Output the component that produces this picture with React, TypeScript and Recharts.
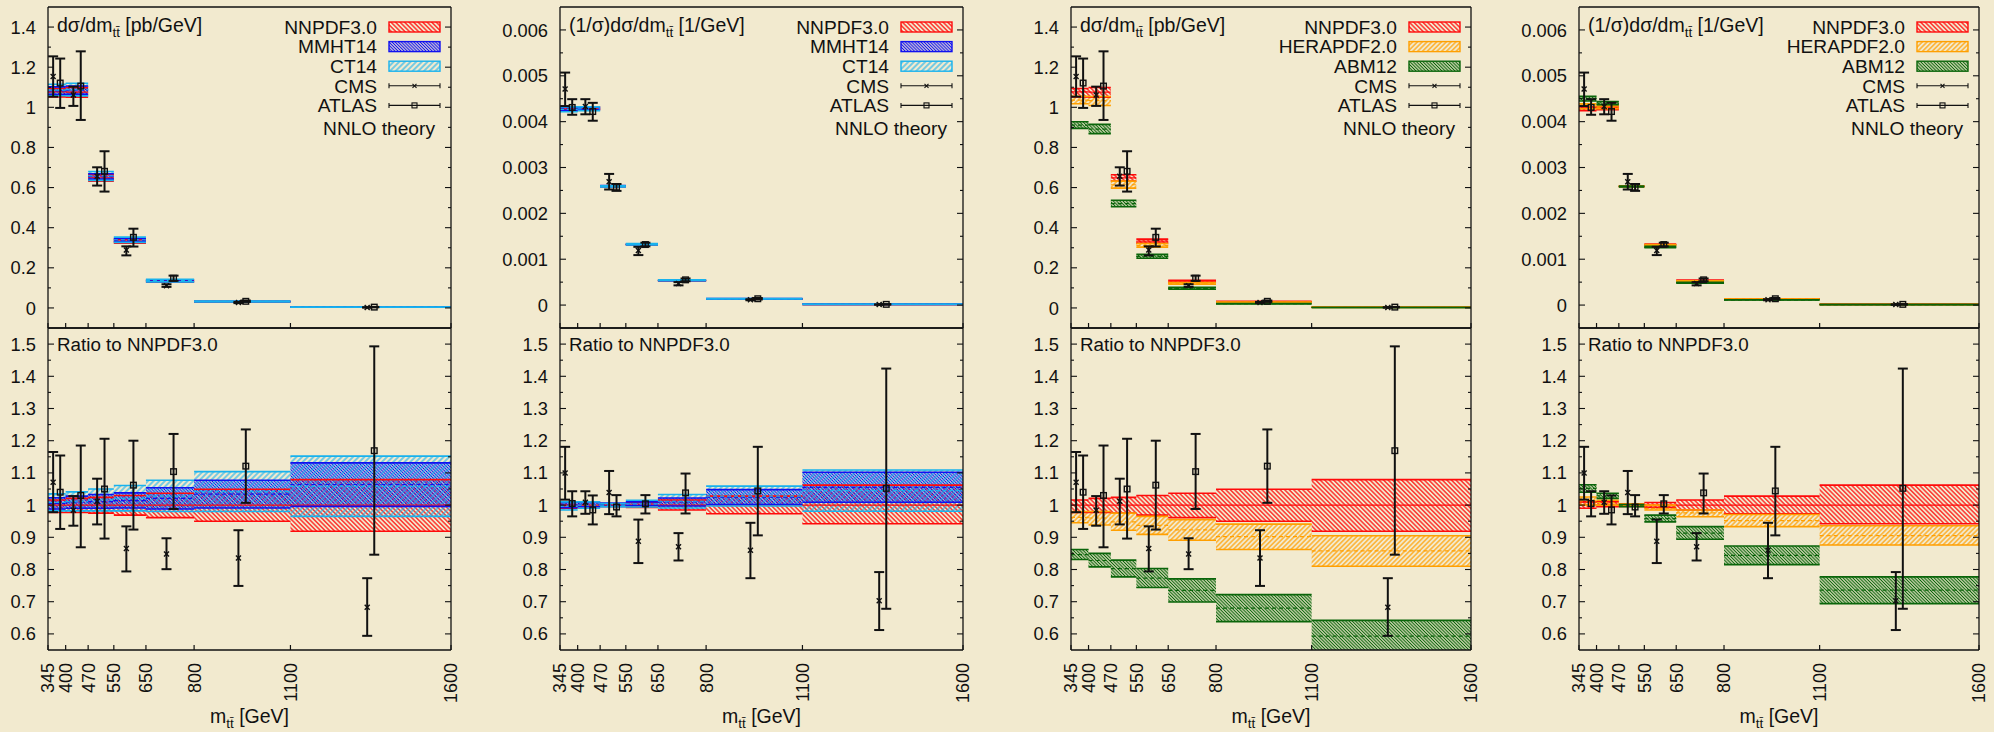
import React from "react";
import { ComposedChart, Area, Line, Scatter, ErrorBar, XAxis, YAxis } from "recharts";

const FONT = '"Liberation Sans", Arial, Helvetica, sans-serif';
const INK = "#111";
const BG = "#f2eacf";

// bins in m_tt [GeV]
const EDGES = [345, 400, 470, 550, 650, 800, 1100, 1600];
const X_CMS = [361, 424, 498, 589, 714, 938, 1339];
const X_ATLAS = [383, 447, 521, 611, 736, 961, 1361];

// y ticks
const ABS_MAJOR = [0, 0.2, 0.4, 0.6, 0.8, 1, 1.2, 1.4];
const ABS_MINOR = [0.1, 0.3, 0.5, 0.7, 0.9, 1.1, 1.3];
const NORM_MAJOR = [0, 0.001, 0.002, 0.003, 0.004, 0.005, 0.006];
const NORM_MINOR = [0.0005, 0.0015, 0.0025, 0.0035, 0.0045, 0.0055];
const RATIO_MAJOR = [0.6, 0.7, 0.8, 0.9, 1, 1.1, 1.2, 1.3, 1.4, 1.5];
const RATIO_MINOR = [0.65, 0.75, 0.85, 0.95, 1.05, 1.15, 1.25, 1.35, 1.45];

// data: dsigma/dm [pb/GeV]
const CMS_A = [1.153, 1.061, 0.656, 0.289, 0.111, 0.027, 0.0025];
const CMS_A_LO = [1.053, 1.007, 0.61, 0.262, 0.105, 0.024, 0.0022];
const CMS_A_HI = [1.254, 1.103, 0.701, 0.307, 0.118, 0.03, 0.0028];
const ATLAS_A = [1.121, 1.106, 0.681, 0.352, 0.148, 0.033, 0.0041];
const ATLAS_A_LO = [0.997, 0.937, 0.58, 0.306, 0.135, 0.03, 0.003];
const ATLAS_A_HI = [1.243, 1.279, 0.781, 0.395, 0.161, 0.037, 0.0052];

// data: (1/sigma) dsigma/dm [1/GeV]
const CMS_N = [0.00471, 0.00433, 0.00269, 0.00119, 0.00047, 0.000116, 0.0000105];
const CMS_N_LO = [0.00434, 0.00416, 0.00252, 0.00109, 0.00043, 0.000105, 0.000009];
const CMS_N_HI = [0.00507, 0.00449, 0.00286, 0.00127, 0.0005, 0.000127, 0.000012];
const ATLAS_N = [0.00431, 0.00422, 0.00257, 0.00132, 0.00055, 0.000138, 0.0000155];
const ATLAS_N_LO = [0.00415, 0.00402, 0.00249, 0.00128, 0.00052, 0.000122, 0.00001];
const ATLAS_N_HI = [0.00449, 0.00441, 0.00264, 0.00136, 0.00058, 0.000154, 0.000021];

// data: ratio to NNPDF3.0 (absolute)
const CMS_R = [1.071, 0.984, 1.012, 0.865, 0.848, 0.836, 0.683];
const CMS_R_LO = [0.978, 0.936, 0.94, 0.794, 0.801, 0.749, 0.594];
const CMS_R_HI = [1.165, 1.028, 1.082, 0.934, 0.897, 0.922, 0.773];
const ATLAS_R = [1.04, 1.03, 1.05, 1.062, 1.104, 1.121, 1.169];
const ATLAS_R_LO = [0.926, 0.869, 0.896, 0.924, 0.988, 1.007, 0.846];
const ATLAS_R_HI = [1.154, 1.185, 1.206, 1.2, 1.221, 1.235, 1.493];

// data: ratio to NNPDF3.0 (normalised)
const CMS_NR = [1.1, 1.009, 1.039, 0.888, 0.871, 0.86, 0.703];
const CMS_NR_LO = [1.017, 0.973, 0.972, 0.82, 0.828, 0.773, 0.612];
const CMS_NR_HI = [1.181, 1.043, 1.106, 0.955, 0.913, 0.945, 0.792];
const ATLAS_NR = [1.005, 0.985, 0.994, 1.004, 1.038, 1.044, 1.052];
const ATLAS_NR_LO = [0.965, 0.94, 0.965, 0.974, 0.974, 0.906, 0.678];
const ATLAS_NR_HI = [1.043, 1.03, 1.031, 1.031, 1.098, 1.181, 1.424];

// theory bands, absolute
const NN_A_LO = [1.052, 1.051, 0.632, 0.323, 0.128, 0.0295, 0.0032];
const NN_A_HI = [1.094, 1.099, 0.664, 0.343, 0.138, 0.0325, 0.0038];
const NN_A_MID = [1.077, 1.076, 0.648, 0.333, 0.133, 0.031, 0.0035];
const MMHT_A_LO = [1.064, 1.065, 0.642, 0.33, 0.131, 0.0307, 0.0035];
const MMHT_A_HI = [1.102, 1.106, 0.669, 0.346, 0.14, 0.0334, 0.004];
const MMHT_A_MID = [1.082, 1.086, 0.655, 0.338, 0.136, 0.0321, 0.0037];
const CT14_A_LO = [1.058, 1.057, 0.636, 0.327, 0.13, 0.0304, 0.0034];
const CT14_A_HI = [1.115, 1.12, 0.68, 0.353, 0.143, 0.0342, 0.004];
const CT14_A_MID = [1.086, 1.088, 0.658, 0.34, 0.137, 0.0323, 0.0037];
const HERA_A_LO = [1.018, 1.009, 0.597, 0.303, 0.1185, 0.0267, 0.00284];
const HERA_A_HI = [1.055, 1.054, 0.632, 0.321, 0.127, 0.0292, 0.00317];
const HERA_A_MID = [1.036, 1.033, 0.614, 0.312, 0.1228, 0.028, 0.003];
const ABM_A_LO = [0.895, 0.869, 0.504, 0.248, 0.093, 0.0198, 0.0019];
const ABM_A_HI = [0.928, 0.915, 0.537, 0.267, 0.1025, 0.0224, 0.00225];
const ABM_A_MID = [0.911, 0.891, 0.52, 0.257, 0.0978, 0.0211, 0.0021];

// theory bands, normalised
const NN_N_LO = [0.004237, 0.004259, 0.00258, 0.001311, 0.000527, 0.0001304, 0.0000141];
const NN_N_HI = [0.004323, 0.004323, 0.0026, 0.001331, 0.000544, 0.0001378, 0.0000159];
const NN_N_MID = [0.00428, 0.00428, 0.00259, 0.00132, 0.000535, 0.000134, 0.000015];
const MMHT_N_LO = [0.004246, 0.004259, 0.00258, 0.001317, 0.000533, 0.0001343, 0.0000151];
const MMHT_N_HI = [0.004314, 0.004314, 0.002606, 0.001333, 0.000547, 0.0001404, 0.0000165];
const MMHT_N_MID = [0.00428, 0.004284, 0.002593, 0.001325, 0.00054, 0.0001374, 0.0000158];
const CT14_N_LO = [0.004216, 0.004237, 0.002577, 0.001312, 0.00053, 0.0001336, 0.0000147];
const CT14_N_HI = [0.004323, 0.004323, 0.002603, 0.00134, 0.000553, 0.0001419, 0.0000166];
const CT14_N_MID = [0.004267, 0.00428, 0.00259, 0.001325, 0.000541, 0.0001378, 0.0000157];
const HERA_N_LO = [0.00428, 0.00428, 0.002582, 0.0013, 0.000516, 0.000125, 0.0000131];
const HERA_N_HI = [0.004387, 0.004344, 0.002598, 0.00132, 0.000527, 0.00013, 0.000014];
const HERA_N_MID = [0.004336, 0.004314, 0.00259, 0.001307, 0.000522, 0.0001276, 0.0000136];
const ABM_N_LO = [0.004451, 0.00437, 0.002577, 0.001251, 0.000478, 0.0001092, 0.0000104];
const ABM_N_HI = [0.00455, 0.004438, 0.002595, 0.001279, 0.000499, 0.000117, 0.0000117];
const ABM_N_MID = [0.004503, 0.004404, 0.002585, 0.001265, 0.000488, 0.0001131, 0.000011];

// theory bands, ratio (absolute)
const NN_R_LO = [0.977, 0.977, 0.975, 0.969, 0.961, 0.95, 0.919];
const NN_R_HI = [1.016, 1.021, 1.024, 1.03, 1.037, 1.049, 1.079];
const NN_R_MID = [1, 1, 1, 1, 1, 1, 1];
const MMHT_R_LO = [0.988, 0.99, 0.99, 0.991, 0.988, 0.991, 0.996];
const MMHT_R_HI = [1.023, 1.028, 1.033, 1.038, 1.054, 1.077, 1.131];
const MMHT_R_MID = [1.005, 1.009, 1.011, 1.014, 1.021, 1.034, 1.064];
const CT14_R_LO = [0.982, 0.982, 0.982, 0.982, 0.98, 0.98, 0.965];
const CT14_R_HI = [1.035, 1.041, 1.05, 1.061, 1.077, 1.104, 1.152];
const CT14_R_MID = [1.008, 1.011, 1.016, 1.021, 1.028, 1.042, 1.058];
const HERA_R_LO = [0.945, 0.938, 0.922, 0.909, 0.891, 0.862, 0.81];
const HERA_R_HI = [0.98, 0.98, 0.975, 0.965, 0.955, 0.941, 0.905];
const HERA_R_MID = [0.962, 0.96, 0.948, 0.937, 0.923, 0.902, 0.858];
const ABM_R_LO = [0.831, 0.808, 0.777, 0.744, 0.699, 0.638, 0.545];
const ABM_R_HI = [0.862, 0.85, 0.829, 0.803, 0.771, 0.722, 0.642];
const ABM_R_MID = [0.846, 0.828, 0.803, 0.773, 0.735, 0.68, 0.593];

// theory bands, ratio (normalised)
const NN_NR_LO = [0.99, 0.995, 0.996, 0.993, 0.985, 0.973, 0.942];
const NN_NR_HI = [1.01, 1.01, 1.004, 1.008, 1.016, 1.028, 1.062];
const NN_NR_MID = [1, 1, 1, 1, 1, 1, 1];
const MMHT_NR_LO = [0.992, 0.995, 0.996, 0.998, 0.997, 1.002, 1.009];
const MMHT_NR_HI = [1.008, 1.008, 1.006, 1.01, 1.022, 1.048, 1.102];
const MMHT_NR_MID = [1.0, 1.001, 1.001, 1.004, 1.01, 1.025, 1.055];
const CT14_NR_LO = [0.985, 0.99, 0.995, 0.994, 0.991, 0.997, 0.981];
const CT14_NR_HI = [1.01, 1.01, 1.005, 1.015, 1.033, 1.059, 1.109];
const CT14_NR_MID = [0.997, 1.0, 1.0, 1.004, 1.012, 1.028, 1.045];
const HERA_NR_LO = [1.0, 1.0, 0.997, 0.985, 0.964, 0.933, 0.876];
const HERA_NR_HI = [1.025, 1.015, 1.003, 1.0, 0.985, 0.971, 0.936];
const HERA_NR_MID = [1.013, 1.008, 1.0, 0.99, 0.976, 0.952, 0.905];
const ABM_NR_LO = [1.04, 1.021, 0.995, 0.948, 0.894, 0.815, 0.694];
const ABM_NR_HI = [1.063, 1.037, 1.002, 0.969, 0.933, 0.873, 0.777];
const ABM_NR_MID = [1.052, 1.029, 0.998, 0.958, 0.913, 0.844, 0.736];

const PDFS: Record<string, { name: string; color: string; pattern: string }> = {
  NNPDF: { name: "NNPDF3.0", color: "#ff0a0a", pattern: "h-red" },
  MMHT: { name: "MMHT14", color: "#1010f0", pattern: "h-blue" },
  CT14: { name: "CT14", color: "#18b2ee", pattern: "h-cyan" },
  HERA: { name: "HERAPDF2.0", color: "#ff9f00", pattern: "h-orange" },
  ABM: { name: "ABM12", color: "#0a650a", pattern: "h-green" },
};

const BANDS: Record<string, Record<string, number[][]>> = {
  abs: {
    NNPDF: [NN_A_LO, NN_A_HI, NN_A_MID], MMHT: [MMHT_A_LO, MMHT_A_HI, MMHT_A_MID], CT14: [CT14_A_LO, CT14_A_HI, CT14_A_MID],
    HERA: [HERA_A_LO, HERA_A_HI, HERA_A_MID], ABM: [ABM_A_LO, ABM_A_HI, ABM_A_MID],
  },
  norm: {
    NNPDF: [NN_N_LO, NN_N_HI, NN_N_MID], MMHT: [MMHT_N_LO, MMHT_N_HI, MMHT_N_MID], CT14: [CT14_N_LO, CT14_N_HI, CT14_N_MID],
    HERA: [HERA_N_LO, HERA_N_HI, HERA_N_MID], ABM: [ABM_N_LO, ABM_N_HI, ABM_N_MID],
  },
  ratioAbs: {
    NNPDF: [NN_R_LO, NN_R_HI, NN_R_MID], MMHT: [MMHT_R_LO, MMHT_R_HI, MMHT_R_MID], CT14: [CT14_R_LO, CT14_R_HI, CT14_R_MID],
    HERA: [HERA_R_LO, HERA_R_HI, HERA_R_MID], ABM: [ABM_R_LO, ABM_R_HI, ABM_R_MID],
  },
  ratioNorm: {
    NNPDF: [NN_NR_LO, NN_NR_HI, NN_NR_MID], MMHT: [MMHT_NR_LO, MMHT_NR_HI, MMHT_NR_MID], CT14: [CT14_NR_LO, CT14_NR_HI, CT14_NR_MID],
    HERA: [HERA_NR_LO, HERA_NR_HI, HERA_NR_MID], ABM: [ABM_NR_LO, ABM_NR_HI, ABM_NR_MID],
  },
};

const POINTS: Record<string, number[][][]> = {
  abs: [[CMS_A, CMS_A_LO, CMS_A_HI], [ATLAS_A, ATLAS_A_LO, ATLAS_A_HI]],
  norm: [[CMS_N, CMS_N_LO, CMS_N_HI], [ATLAS_N, ATLAS_N_LO, ATLAS_N_HI]],
  ratioAbs: [[CMS_R, CMS_R_LO, CMS_R_HI], [ATLAS_R, ATLAS_R_LO, ATLAS_R_HI]],
  ratioNorm: [[CMS_NR, CMS_NR_LO, CMS_NR_HI], [ATLAS_NR, ATLAS_NR_LO, ATLAS_NR_HI]],
};

const PANELS = [
  { left: 48, width: 403, kind: "abs", pdfs: ["NNPDF", "MMHT", "CT14"] },
  { left: 560, width: 403, kind: "norm", pdfs: ["NNPDF", "MMHT", "CT14"] },
  { left: 1071, width: 400, kind: "abs", pdfs: ["NNPDF", "HERA", "ABM"] },
  { left: 1579, width: 400, kind: "norm", pdfs: ["NNPDF", "HERA", "ABM"] },
];

const PLOT_TOP = 7;
const PLOT_MID = 328;
const PLOT_BOT = 650;
const LW = 60;
const RPAD = 14;

// step rows with a null row after each bin so the bands stay separate
function bandRows(lo: number[], hi: number[], mid: number[]) {
  const rows: any[] = [];
  for (let i = 0; i < lo.length; i++) {
    const v = { band: [lo[i], hi[i]], lo: lo[i], hi: hi[i], mid: mid[i] };
    rows.push({ x: EDGES[i], ...v });
    rows.push({ x: EDGES[i + 1], ...v });
    rows.push({ x: EDGES[i + 1], band: null, lo: null, hi: null, mid: null });
  }
  return rows;
}

function pointRows(xs: number[], ys: number[], lo: number[], hi: number[]) {
  return xs.map((x, i) => ({ x, y: ys[i], err: [ys[i] - lo[i], hi[i] - ys[i]] }));
}

const CmsMark = (p: any) => {
  const { cx, cy } = p;
  if (cx == null || cy == null) return null;
  const s = 2.5;
  return (
    <g stroke={INK} strokeWidth={1.4}>
      <line x1={cx - s} y1={cy - s} x2={cx + s} y2={cy + s} />
      <line x1={cx - s} y1={cy + s} x2={cx + s} y2={cy - s} />
    </g>
  );
};

const AtlasMark = (p: any) => {
  const { cx, cy } = p;
  if (cx == null || cy == null) return null;
  return <rect x={cx - 2.8} y={cy - 2.8} width={5.6} height={5.6} fill="none" stroke={INK} strokeWidth={1.4} />;
};

function makeXTick(dir: number, labels: boolean) {
  return (p: any) => {
    const { x, y, payload } = p;
    return (
      <g>
        <line x1={x} x2={x} y1={y} y2={y + dir * 5} stroke={INK} strokeWidth={1.2} />
        {labels && (
          <text
            transform={`rotate(-90 ${x} ${y + 13})`}
            x={x}
            y={y + 13}
            dy="0.36em"
            textAnchor="end"
            fontSize={18}
            fontFamily={FONT}
            fill={INK}
          >
            {payload.value}
          </text>
        )}
      </g>
    );
  };
}

function makeYTick(side: "l" | "r", majors: number[]) {
  return (p: any) => {
    const { x, y, payload } = p;
    const major = majors.includes(payload.value);
    const len = major ? 6 : 3;
    const d = side === "l" ? 1 : -1;
    return (
      <g>
        <line x1={x} x2={x + d * len} y1={y} y2={y} stroke={INK} strokeWidth={1.1} />
        {side === "l" && major && (
          <text x={x - 12} y={y} dy="0.36em" textAnchor="end" fontSize={18.3} fontFamily={FONT} fill={INK}>
            {String(payload.value)}
          </text>
        )}
      </g>
    );
  };
}

function SubPlot(props: {
  left: number; width: number; top: number; height: number; bottomH: number;
  domain: number[]; majors: number[]; minors: number[]; kind: string; pdfs: string[]; xLabels: boolean;
}) {
  const { left, width, top, height, bottomH, domain, majors, minors, kind, pdfs, xLabels } = props;
  const yTicks = [...majors, ...minors].sort((a, b) => a - b);
  const [cms, atlas] = POINTS[kind];
  const frame = { stroke: INK, strokeWidth: 1.3 };
  return (
    <div style={{ position: "absolute", left: left - LW, top: top - 1 }}>
      <ComposedChart width={LW + width + 1 + RPAD} height={1 + height + bottomH} margin={{ top: 0, right: RPAD, bottom: 0, left: 0 }}>
        <XAxis xAxisId="b" dataKey="x" type="number" domain={[345, 1600]} ticks={EDGES} interval={0} allowDataOverflow
          height={bottomH} tickLine={false} tickSize={0} tickMargin={0} axisLine={frame} tick={makeXTick(-1, xLabels)} />
        <XAxis xAxisId="t" orientation="top" type="number" domain={[345, 1600]} ticks={EDGES} interval={0} allowDataOverflow
          height={1} tickLine={false} tickSize={0} tickMargin={0} axisLine={frame} tick={makeXTick(1, false)} />
        <YAxis yAxisId="l" type="number" domain={domain} ticks={yTicks} interval={0} allowDataOverflow
          width={LW} tickLine={false} tickSize={0} tickMargin={0} axisLine={frame} tick={makeYTick("l", majors)} />
        <YAxis yAxisId="r" orientation="right" type="number" domain={domain} ticks={yTicks} interval={0} allowDataOverflow
          width={1} tickLine={false} tickSize={0} tickMargin={0} axisLine={frame} tick={makeYTick("r", majors)} />
        {pdfs.map((key) => {
          const pdf = PDFS[key];
          const [lo, hi, mid] = BANDS[kind][key];
          const rows = bandRows(lo, hi, mid);
          return (
            <React.Fragment key={key}>
              <Area xAxisId="b" yAxisId="l" data={rows} dataKey="band" type="linear" stroke="none"
                fill={`url(#${pdf.pattern})`} fillOpacity={1} dot={false} activeDot={false} isAnimationActive={false} />
              <Line xAxisId="b" yAxisId="l" data={rows} dataKey="hi" type="linear" stroke={pdf.color} strokeWidth={1.6}
                dot={false} activeDot={false} isAnimationActive={false} />
              <Line xAxisId="b" yAxisId="l" data={rows} dataKey="lo" type="linear" stroke={pdf.color} strokeWidth={1.6}
                dot={false} activeDot={false} isAnimationActive={false} />
              <Line xAxisId="b" yAxisId="l" data={rows} dataKey="mid" type="linear" stroke={pdf.color} strokeWidth={1.2}
                strokeDasharray={key === "NNPDF" ? undefined : "4 3"} dot={false} activeDot={false} isAnimationActive={false} />
            </React.Fragment>
          );
        })}
        <Scatter xAxisId="b" yAxisId="l" data={pointRows(X_CMS, cms[0], cms[1], cms[2])} dataKey="y"
          shape={CmsMark} isAnimationActive={false}>
          <ErrorBar dataKey="err" direction="y" width={5} stroke={INK} strokeWidth={2} isAnimationActive={false} />
        </Scatter>
        <Scatter xAxisId="b" yAxisId="l" data={pointRows(X_ATLAS, atlas[0], atlas[1], atlas[2])} dataKey="y"
          shape={AtlasMark} isAnimationActive={false}>
          <ErrorBar dataKey="err" direction="y" width={5} stroke={INK} strokeWidth={2} isAnimationActive={false} />
        </Scatter>
      </ComposedChart>
    </div>
  );
}

function Sub({ children }: { children: React.ReactNode }) {
  return <tspan fontSize={13.5} dy={5}>{children}</tspan>;
}

function Overlay() {
  const rowsY = [27, 46.6, 66.2, 85.8, 105.4];
  return (
    <svg width={1994} height={732} style={{ position: "absolute", left: 0, top: 0, pointerEvents: "none" }}
      fontFamily={FONT} fill={INK}>
      <defs>
        <pattern id="h-red" patternUnits="userSpaceOnUse" width={3.2} height={3.2} patternTransform="rotate(-45)">
          <line x1={1.6} y1={0} x2={1.6} y2={3.2} stroke="#ff0a0a" strokeWidth={1.2} />
        </pattern>
        <pattern id="h-blue" patternUnits="userSpaceOnUse" width={2.2} height={2.2} patternTransform="rotate(-45)">
          <line x1={1.1} y1={0} x2={1.1} y2={2.2} stroke="#1010f0" strokeWidth={1.15} />
        </pattern>
        <pattern id="h-cyan" patternUnits="userSpaceOnUse" width={4} height={4} patternTransform="rotate(45)">
          <line x1={2} y1={0} x2={2} y2={4} stroke="#18b2ee" strokeWidth={1.15} />
        </pattern>
        <pattern id="h-orange" patternUnits="userSpaceOnUse" width={3.4} height={3.4} patternTransform="rotate(45)">
          <line x1={1.7} y1={0} x2={1.7} y2={3.4} stroke="#ff9f00" strokeWidth={1.15} />
        </pattern>
        <pattern id="h-green" patternUnits="userSpaceOnUse" width={2.3} height={2.3} patternTransform="rotate(-45)">
          <line x1={1.15} y1={0} x2={1.15} y2={2.3} stroke="#0a650a" strokeWidth={1.2} />
        </pattern>
      </defs>
      {PANELS.map((p, i) => {
        const right = p.left + p.width;
        const boxR = right - 11;
        const boxL = boxR - 51;
        const textR = boxL - 12;
        const cx = p.left + p.width / 2;
        return (
          <g key={i}>
            <text x={p.left + 9} y={PLOT_TOP + 25} fontSize={19.5}>
              {p.kind === "abs" ? "dσ/dm" : "(1/σ)dσ/dm"}
              <Sub>{"tt\u0304"}</Sub>
              <tspan dy={-5}>{p.kind === "abs" ? " [pb/GeV]" : " [1/GeV]"}</tspan>
            </text>
            <text x={p.left + 9} y={PLOT_MID + 23} fontSize={18.8}>Ratio to NNPDF3.0</text>
            <text x={cx} y={723} fontSize={19.5} textAnchor="middle">
              m<Sub>{"tt\u0304"}</Sub>
              <tspan dy={-5}>{" [GeV]"}</tspan>
            </text>
            {p.pdfs.map((key, j) => (
              <g key={key}>
                <text x={textR} y={rowsY[j] + 6.8} fontSize={19.2} textAnchor="end">{PDFS[key].name}</text>
                <rect x={boxL} y={rowsY[j] - 5} width={51} height={10} fill={`url(#${PDFS[key].pattern})`}
                  stroke={PDFS[key].color} strokeWidth={1.4} />
              </g>
            ))}
            {["CMS", "ATLAS"].map((name, j) => {
              const y = rowsY[3 + j];
              const mx = (boxL + boxR) / 2;
              return (
                <g key={name}>
                  <text x={textR} y={y + 6.8} fontSize={19.2} textAnchor="end">{name}</text>
                  <g stroke={INK} strokeWidth={1.1}>
                    <line x1={boxL} x2={boxR} y1={y} y2={y} />
                    <line x1={boxL} x2={boxL} y1={y - 2.5} y2={y + 2.5} />
                    <line x1={boxR} x2={boxR} y1={y - 2.5} y2={y + 2.5} />
                    {j === 0 ? (
                      <>
                        <line x1={mx - 2} y1={y - 2} x2={mx + 2} y2={y + 2} />
                        <line x1={mx - 2} y1={y + 2} x2={mx + 2} y2={y - 2} />
                      </>
                    ) : (
                      <rect x={mx - 2.5} y={y - 2.5} width={5} height={5} fill="none" />
                    )}
                  </g>
                </g>
              );
            })}
            <text x={right - 16} y={PLOT_TOP + 121 + 6.8} fontSize={19.2} textAnchor="end">NNLO theory</text>
          </g>
        );
      })}
    </svg>
  );
}

export default function App() {
  return (
    <div style={{ position: "absolute", left: 0, top: 0, width: 1994, height: 732, background: BG, overflow: "hidden", fontFamily: FONT }}>
      {PANELS.map((p, i) => (
        <React.Fragment key={i}>
          <SubPlot left={p.left} width={p.width} top={PLOT_TOP} height={PLOT_MID - PLOT_TOP} bottomH={1}
            domain={p.kind === "abs" ? [-0.1, 1.5] : [-0.0005, 0.0065]}
            majors={p.kind === "abs" ? ABS_MAJOR : NORM_MAJOR} minors={p.kind === "abs" ? ABS_MINOR : NORM_MINOR}
            kind={p.kind} pdfs={p.pdfs} xLabels={false} />
          <SubPlot left={p.left} width={p.width} top={PLOT_MID} height={PLOT_BOT - PLOT_MID} bottomH={80}
            domain={[0.55, 1.55]} majors={RATIO_MAJOR} minors={RATIO_MINOR}
            kind={p.kind === "abs" ? "ratioAbs" : "ratioNorm"} pdfs={p.pdfs} xLabels={true} />
        </React.Fragment>
      ))}
      <Overlay />
    </div>
  );
}
